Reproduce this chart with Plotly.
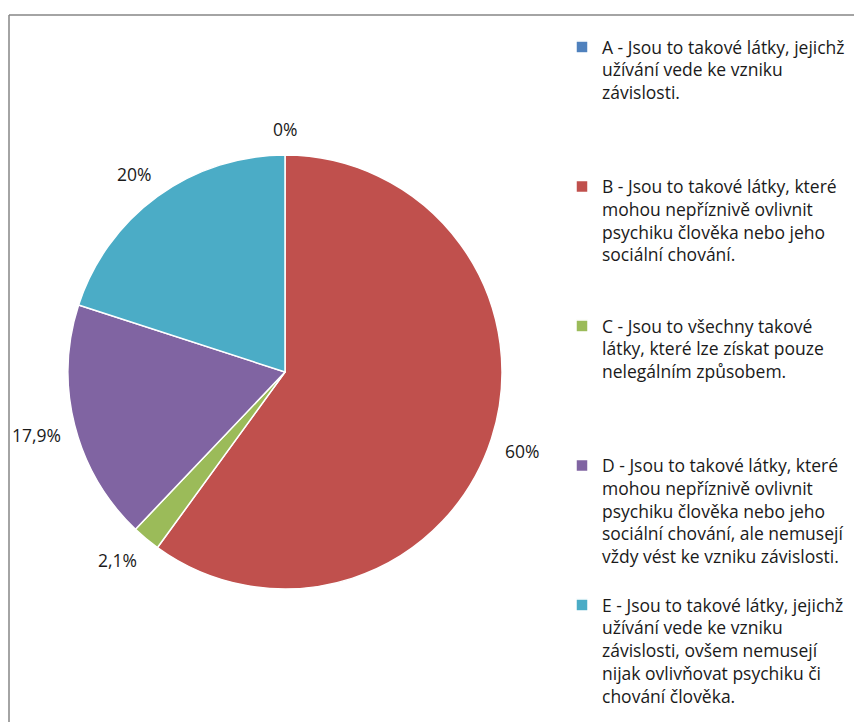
import math
import plotly.graph_objects as go

W, H = 854, 722

categories = ["A", "B", "C", "D", "E"]
values = [0, 60, 2.1, 17.9, 20]
legend_labels = [
    "A - Jsou to takové látky, jejichž<br>užívání vede ke vzniku<br>závislosti.",
    "B - Jsou to takové látky, které<br>mohou nepříznivě ovlivnit<br>psychiku člověka nebo jeho<br>sociální chování.",
    "C - Jsou to všechny takové<br>látky, které lze získat pouze<br>nelegálním způsobem.",
    "D - Jsou to takové látky, které<br>mohou nepříznivě ovlivnit<br>psychiku člověka nebo jeho<br>sociální chování, ale nemusejí<br>vždy vést ke vzniku závislosti.",
    "E - Jsou to takové látky, jejichž<br>užívání vede ke vzniku<br>závislosti, ovšem nemusejí<br>nijak ovlivňovat psychiku či<br>chování člověka.",
]
colors = ["#4F81BD", "#C0504D", "#9BBB59", "#8064A2", "#4BACC6"]

LEGEND_FONT = "Open Sans"
LABEL_FONT = "Open Sans"
TXT = "#1a1a1a"
LINES_PER_ITEM = 6


def px(x):
    return x / W


def py(y):
    return 1 - y / H


def pad(label, last=False):
    if last:
        return label
    n = label.count("<br>") + 1
    return label + "<br> " * (LINES_PER_ITEM - n)


def fmt(v):
    if float(v).is_integer():
        return f"{int(v)}%"
    return f"{v:.1f}".replace(".", ",") + "%"


# pie geometry (pixels)
CX, CY, R = 285, 372, 217

fig = go.Figure()
fig.add_trace(go.Pie(
    labels=[pad(l, i == len(legend_labels) - 1) for i, l in enumerate(legend_labels)],
    values=values,
    sort=False,
    direction="clockwise",
    rotation=0,
    marker=dict(colors=colors, line=dict(color="white", width=1.5)),
    textinfo="none",
    hoverinfo="label+percent",
    domain=dict(x=[px(CX - R), px(CX + R)], y=[py(CY + R), py(CY - R)]),
))

# data labels placed outside slices (box corner model), computed from the values
total = sum(values)
annotations = []
cum = 0.0
LABEL_FS = 17.5
GAP = 19
for v in values:
    mid = (cum + v / 2) / total * 2 * math.pi
    cum += v
    t = fmt(v)
    dx, dy = math.sin(mid), -math.cos(mid)
    hw = len(t) * LABEL_FS * 0.23
    hh = LABEL_FS * 0.4
    sx = max(-1.0, min(1.0, dx * 3))
    sy = max(-1.0, min(1.0, dy * 3))
    x = CX + (R + GAP) * dx + hw * sx
    y = CY + (R + GAP) * dy + hh * sy
    annotations.append(dict(
        x=px(x), y=py(y), xref="paper", yref="paper", text=t,
        showarrow=False, xanchor="center", yanchor="middle",
        font=dict(family=LABEL_FONT, size=LABEL_FS, color=TXT),
    ))

fig.update_layout(
    width=W, height=H,
    margin=dict(l=0, r=0, t=0, b=0),
    paper_bgcolor="white",
    plot_bgcolor="white",
    showlegend=True,
    legend=dict(
        x=px(562), y=py(29), xanchor="left", yanchor="top",
        font=dict(family=LEGEND_FONT, size=17.5, color=TXT),
        valign="top",
        itemwidth=30,
        tracegroupgap=0,
        bgcolor="rgba(0,0,0,0)",
    ),
    annotations=annotations,
    shapes=[
        dict(type="line", xref="paper", yref="paper", x0=px(9), y0=py(15), x1=1.01, y1=py(15),
             line=dict(color="#868686", width=1.5)),
        dict(type="line", xref="paper", yref="paper", x0=px(9), y0=py(15), x1=px(9), y1=-0.01,
             line=dict(color="#868686", width=1.5)),
    ],
)

fig.write_html("out.html")
